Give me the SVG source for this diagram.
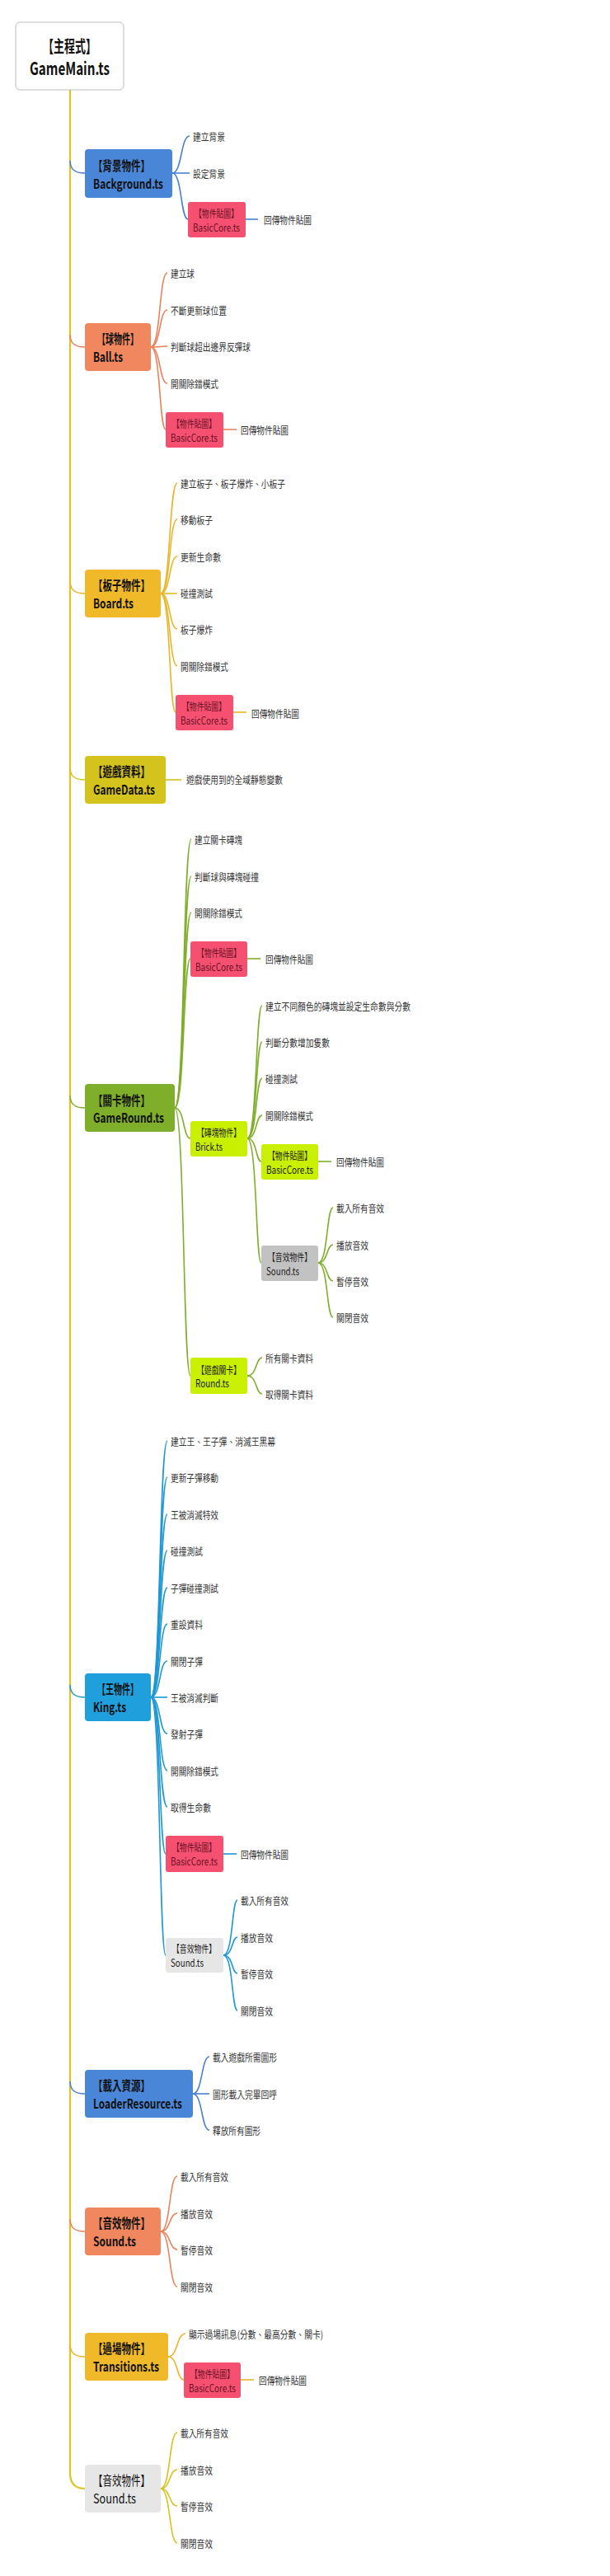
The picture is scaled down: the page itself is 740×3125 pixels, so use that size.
<svg xmlns="http://www.w3.org/2000/svg" width="740" height="3125" viewBox="0 0 740 3125">
<style>
text{font-family:"Noto Sans CJK TC","Noto Sans",sans-serif;dominant-baseline:central}
.c{font-size:12px;fill:#333}
.h{font-size:16px;font-weight:bold;fill:#111}
.s{font-size:12.5px;fill:#222}
.p{font-size:12.5px;fill:#6b1228}
.l{fill:none;stroke-width:1.6}
.box{stroke:none}
</style>
<rect width="740" height="3125" fill="#fff"/>
<g id="connectors">
<path d="M85 109 V3000 C85 3012 90 3019 103 3019" stroke="#dcc52a" stroke-width="2.2" fill="none"/>
<path class="l" stroke="#4a7fd0" d="M85 195 C85 205 90 210 103 210"/>
<path class="l" stroke="#e8825a" d="M85 406 C85 416 90 421 103 421"/>
<path class="l" stroke="#eab52a" d="M85 705 C85 715 90 720 103 720"/>
<path class="l" stroke="#d4c21d" d="M85 931 C85 941 90 946 103 946"/>
<path class="l" stroke="#7fae2a" d="M85 1329 C85 1339 90 1344 103 1344"/>
<path class="l" stroke="#1f97d3" d="M85 2044 C85 2054 90 2059 103 2059"/>
<path class="l" stroke="#4a7fd0" d="M85 2525 C85 2535 90 2540 103 2540"/>
<path class="l" stroke="#e8825a" d="M85 2692 C85 2702 90 2707 103 2707"/>
<path class="l" stroke="#eab52a" d="M85 2844 C85 2854 90 2859 103 2859"/>
<g stroke="#4a7fd0" class="l">
<path class="l" d="M209 210 C221 210 219 165 230 165"/><path class="l" d="M209 210 H230"/><path class="l" d="M209 210 C221 210 219 266 228 266"/><path class="l" d="M298 266 H313"/>
</g>
<g stroke="#e8825a">
<path class="l" d="M183 421 C195 421 193 331 203 331"/><path class="l" d="M183 421 C195 421 193 376 203 376"/><path class="l" d="M183 421 C195 421 193 420 203 420"/><path class="l" d="M183 421 C195 421 193 465 203 465"/><path class="l" d="M183 421 C195 421 193 521 201 521"/><path class="l" d="M271 521 H287"/>
</g>
<g stroke="#eab52a">
<path class="l" d="M195 720 C207 720 205 586 215 586"/><path class="l" d="M195 720 C207 720 205 630 215 630"/><path class="l" d="M195 720 C207 720 205 675 215 675"/><path class="l" d="M195 720 H215"/><path class="l" d="M195 720 C207 720 205 763 215 763"/><path class="l" d="M195 720 C207 720 205 808 215 808"/><path class="l" d="M195 720 C207 720 205 864 213 864"/><path class="l" d="M283 864 H299"/>
</g>
<path class="l" stroke="#d4c21d" d="M201 946 H220"/>
<g stroke="#7fae2a">
<path class="l" d="M212 1344 C224 1344 222 1018 232 1018"/><path class="l" d="M212 1344 C224 1344 222 1063 232 1063"/><path class="l" d="M212 1344 C224 1344 222 1107 232 1107"/><path class="l" d="M212 1344 C224 1344 222 1163 231 1163"/><path class="l" d="M300 1163 H316"/><path class="l" d="M212 1344 C224 1344 222 1381 231 1381"/><path class="l" d="M212 1344 C224 1344 222 1669 231 1669"/>
<path class="l" d="M300 1381 C312 1381 310 1220 318 1220"/><path class="l" d="M300 1381 C312 1381 310 1264 318 1264"/><path class="l" d="M300 1381 C312 1381 310 1308 318 1308"/><path class="l" d="M300 1381 C312 1381 310 1353 318 1353"/><path class="l" d="M300 1381 C312 1381 310 1409 317 1409"/><path class="l" d="M386 1409 H402"/><path class="l" d="M300 1381 C312 1381 310 1532 317 1532"/>
<path class="l" d="M386 1532 C398 1532 396 1465 404 1465"/><path class="l" d="M386 1532 C398 1532 396 1510 404 1510"/><path class="l" d="M386 1532 C398 1532 396 1554 404 1554"/><path class="l" d="M386 1532 C398 1532 396 1598 404 1598"/>
<path class="l" d="M300 1669 C312 1669 310 1647 318 1647"/><path class="l" d="M300 1669 C312 1669 310 1691 318 1691"/>
</g>
<g stroke="#1f97d3">
<path class="l" d="M183 2059 C195 2059 193 1748 203 1748"/><path class="l" d="M183 2059 C195 2059 193 1792 203 1792"/><path class="l" d="M183 2059 C195 2059 193 1837 203 1837"/><path class="l" d="M183 2059 C195 2059 193 1881 203 1881"/><path class="l" d="M183 2059 C195 2059 193 1926 203 1926"/><path class="l" d="M183 2059 C195 2059 193 1970 203 1970"/><path class="l" d="M183 2059 C195 2059 193 2015 203 2015"/><path class="l" d="M183 2059 H203"/><path class="l" d="M183 2059 C195 2059 193 2103 203 2103"/><path class="l" d="M183 2059 C195 2059 193 2148 203 2148"/><path class="l" d="M183 2059 C195 2059 193 2192 203 2192"/><path class="l" d="M183 2059 C195 2059 193 2249 201 2249"/><path class="l" d="M271 2249 H287"/><path class="l" d="M183 2059 C195 2059 193 2372 201 2372"/>
<path class="l" d="M271 2372 C283 2372 281 2305 288 2305"/><path class="l" d="M271 2372 C283 2372 281 2350 288 2350"/><path class="l" d="M271 2372 C283 2372 281 2394 288 2394"/><path class="l" d="M271 2372 C283 2372 281 2439 288 2439"/>
</g>
<g stroke="#4a7fd0">
<path class="l" d="M234 2540 C246 2540 244 2495 254 2495"/><path class="l" d="M234 2540 H254"/><path class="l" d="M234 2540 C246 2540 244 2584 254 2584"/>
</g>
<g stroke="#e8825a">
<path class="l" d="M195 2707 C207 2707 205 2640 215 2640"/><path class="l" d="M195 2707 C207 2707 205 2685 215 2685"/><path class="l" d="M195 2707 C207 2707 205 2729 215 2729"/><path class="l" d="M195 2707 C207 2707 205 2774 215 2774"/>
</g>
<g stroke="#eab52a">
<path class="l" d="M204 2859 C216 2859 214 2831 225 2831"/><path class="l" d="M204 2859 C216 2859 214 2887 223 2887"/><path class="l" d="M292 2887 H308"/>
</g>
<g stroke="#d4c21d">
<path class="l" d="M195 3019 C207 3019 205 2951 215 2951"/><path class="l" d="M195 3019 C207 3019 205 2996 215 2996"/><path class="l" d="M195 3019 C207 3019 205 3040 215 3040"/><path class="l" d="M195 3019 C207 3019 205 3085 215 3085"/>
</g>
</g>
<g id="root"><rect x="19" y="27" width="131" height="82" rx="5" fill="#fff" stroke="#bbb"/>
<text x="84.5" y="55" text-anchor="middle" font-size="20" font-weight="bold" fill="#111" textLength="65" lengthAdjust="spacingAndGlyphs">【主程式】</text>
<text x="84.5" y="82" text-anchor="middle" font-size="21" font-weight="bold" fill="#111" textLength="97" lengthAdjust="spacingAndGlyphs">GameMain.ts</text></g>

<g id="background"><rect x="103" y="181" width="106" height="59" rx="4" fill="#4a86d8"/>
<text class="h" x="113" y="200" textLength="69" lengthAdjust="spacingAndGlyphs">【背景物件】</text><text class="h" x="113" y="222" textLength="85" lengthAdjust="spacingAndGlyphs">Background.ts</text></g>
<g id="bg-items"><text class="c" x="234" y="165" textLength="39" lengthAdjust="spacingAndGlyphs">建立背景</text><text class="c" x="234" y="210" textLength="39" lengthAdjust="spacingAndGlyphs">設定背景</text>
<rect x="228" y="245" width="70" height="43" rx="3" fill="#f5506f"/><text class="p" x="236" y="258" textLength="53" lengthAdjust="spacingAndGlyphs">【物件貼圖】</text><text class="p" x="234" y="275" textLength="57" lengthAdjust="spacingAndGlyphs">BasicCore.ts</text>
<text class="c" x="320" y="266" textLength="58" lengthAdjust="spacingAndGlyphs">回傳物件貼圖</text></g>

<g id="ball"><rect x="103" y="392" width="80" height="58" rx="4" fill="#f0875e"/>
<text class="h" x="118" y="410" textLength="50" lengthAdjust="spacingAndGlyphs">【球物件】</text><text class="h" x="113" y="432" textLength="36" lengthAdjust="spacingAndGlyphs">Ball.ts</text></g>
<g id="ball-items"><text class="c" x="207" y="331" textLength="29" lengthAdjust="spacingAndGlyphs">建立球</text><text class="c" x="207" y="376" textLength="68" lengthAdjust="spacingAndGlyphs">不斷更新球位置</text><text class="c" x="207" y="420" textLength="97" lengthAdjust="spacingAndGlyphs">判斷球超出邊界反彈球</text><text class="c" x="207" y="465" textLength="58" lengthAdjust="spacingAndGlyphs">開關除錯模式</text>
<rect x="201" y="500" width="70" height="43" rx="3" fill="#f5506f"/><text class="p" x="209" y="513" textLength="53" lengthAdjust="spacingAndGlyphs">【物件貼圖】</text><text class="p" x="207" y="530" textLength="57" lengthAdjust="spacingAndGlyphs">BasicCore.ts</text>
<text class="c" x="292" y="521" textLength="58" lengthAdjust="spacingAndGlyphs">回傳物件貼圖</text></g>

<g id="board"><rect x="103" y="691" width="92" height="58" rx="4" fill="#f0b92a"/>
<text class="h" x="113" y="709" textLength="69" lengthAdjust="spacingAndGlyphs">【板子物件】</text><text class="h" x="113" y="731" textLength="49" lengthAdjust="spacingAndGlyphs">Board.ts</text></g>
<g id="board-items"><text class="c" x="219" y="586" textLength="127" lengthAdjust="spacingAndGlyphs">建立板子、板子爆炸、小板子</text><text class="c" x="219" y="630" textLength="39" lengthAdjust="spacingAndGlyphs">移動板子</text><text class="c" x="219" y="675" textLength="49" lengthAdjust="spacingAndGlyphs">更新生命數</text><text class="c" x="219" y="719" textLength="39" lengthAdjust="spacingAndGlyphs">碰撞測試</text><text class="c" x="219" y="763" textLength="39" lengthAdjust="spacingAndGlyphs">板子爆炸</text><text class="c" x="219" y="808" textLength="58" lengthAdjust="spacingAndGlyphs">開關除錯模式</text>
<rect x="213" y="843" width="70" height="43" rx="3" fill="#f5506f"/><text class="p" x="221" y="856" textLength="53" lengthAdjust="spacingAndGlyphs">【物件貼圖】</text><text class="p" x="219" y="873" textLength="57" lengthAdjust="spacingAndGlyphs">BasicCore.ts</text>
<text class="c" x="305" y="865" textLength="58" lengthAdjust="spacingAndGlyphs">回傳物件貼圖</text></g>

<g id="gamedata"><rect x="103" y="917" width="98" height="58" rx="4" fill="#d4c21d"/>
<text class="h" x="113" y="935" textLength="69" lengthAdjust="spacingAndGlyphs">【遊戲資料】</text><text class="h" x="113" y="957" textLength="75" lengthAdjust="spacingAndGlyphs">GameData.ts</text>
<text class="c" x="226" y="945" textLength="117" lengthAdjust="spacingAndGlyphs">遊戲使用到的全域靜態變數</text></g>

<g id="gameround"><rect x="103" y="1315" width="109" height="58" rx="4" fill="#7fae2a"/>
<text class="h" x="113" y="1334" textLength="69" lengthAdjust="spacingAndGlyphs">【關卡物件】</text><text class="h" x="113" y="1355" textLength="86" lengthAdjust="spacingAndGlyphs">GameRound.ts</text></g>
<g id="round-items"><text class="c" x="236" y="1018" textLength="58" lengthAdjust="spacingAndGlyphs">建立關卡磚塊</text><text class="c" x="236" y="1063" textLength="78" lengthAdjust="spacingAndGlyphs">判斷球與磚塊碰撞</text><text class="c" x="236" y="1107" textLength="58" lengthAdjust="spacingAndGlyphs">開關除錯模式</text>
<rect x="231" y="1142" width="69" height="43" rx="3" fill="#f5506f"/><text class="p" x="239" y="1155" textLength="53" lengthAdjust="spacingAndGlyphs">【物件貼圖】</text><text class="p" x="237" y="1172" textLength="57" lengthAdjust="spacingAndGlyphs">BasicCore.ts</text>
<text class="c" x="322" y="1163" textLength="58" lengthAdjust="spacingAndGlyphs">回傳物件貼圖</text></g>

<g id="brick"><rect x="231" y="1360" width="69" height="43" rx="3" fill="#c8f000"/>
<text class="s" x="239" y="1373" textLength="53" lengthAdjust="spacingAndGlyphs">【磚塊物件】</text><text class="s" x="237" y="1390" textLength="33" lengthAdjust="spacingAndGlyphs">Brick.ts</text></g>
<g id="brick-items"><text class="c" x="322" y="1220" textLength="176" lengthAdjust="spacingAndGlyphs">建立不同顏色的磚塊並設定生命數與分數</text><text class="c" x="322" y="1264" textLength="78" lengthAdjust="spacingAndGlyphs">判斷分數增加隻數</text><text class="c" x="322" y="1308" textLength="39" lengthAdjust="spacingAndGlyphs">碰撞測試</text><text class="c" x="322" y="1353" textLength="58" lengthAdjust="spacingAndGlyphs">開關除錯模式</text>
<rect x="317" y="1388" width="69" height="43" rx="3" fill="#c8f000"/><text class="s" x="325" y="1401" textLength="53" lengthAdjust="spacingAndGlyphs">【物件貼圖】</text><text class="s" x="323" y="1418" textLength="57" lengthAdjust="spacingAndGlyphs">BasicCore.ts</text>
<text class="c" x="408" y="1409" textLength="58" lengthAdjust="spacingAndGlyphs">回傳物件貼圖</text></g>
<g id="brick-sound"><rect x="317" y="1511" width="69" height="43" rx="3" fill="#c2c2c2"/>
<text class="s" x="325" y="1524" textLength="53" lengthAdjust="spacingAndGlyphs">【音效物件】</text><text class="s" x="323" y="1541" textLength="40" lengthAdjust="spacingAndGlyphs">Sound.ts</text>
<text class="c" x="408" y="1465" textLength="58" lengthAdjust="spacingAndGlyphs">載入所有音效</text><text class="c" x="408" y="1510" textLength="39" lengthAdjust="spacingAndGlyphs">播放音效</text><text class="c" x="408" y="1554" textLength="39" lengthAdjust="spacingAndGlyphs">暫停音效</text><text class="c" x="408" y="1598" textLength="39" lengthAdjust="spacingAndGlyphs">關閉音效</text></g>
<g id="round"><rect x="231" y="1647" width="69" height="44" rx="3" fill="#c8f000"/>
<text class="s" x="239" y="1661" textLength="53" lengthAdjust="spacingAndGlyphs">【遊戲關卡】</text><text class="s" x="237" y="1677" textLength="41" lengthAdjust="spacingAndGlyphs">Round.ts</text>
<text class="c" x="322" y="1647" textLength="58" lengthAdjust="spacingAndGlyphs">所有關卡資料</text><text class="c" x="322" y="1691" textLength="58" lengthAdjust="spacingAndGlyphs">取得關卡資料</text></g>

<g id="king"><rect x="103" y="2030" width="80" height="58" rx="4" fill="#1fa0dd"/>
<text class="h" x="118" y="2048" textLength="50" lengthAdjust="spacingAndGlyphs">【王物件】</text><text class="h" x="113" y="2070" textLength="40" lengthAdjust="spacingAndGlyphs">King.ts</text></g>
<g id="king-items"><text class="c" x="207" y="1748" textLength="127" lengthAdjust="spacingAndGlyphs">建立王、王子彈、消滅王黑幕</text><text class="c" x="207" y="1792" textLength="58" lengthAdjust="spacingAndGlyphs">更新子彈移動</text><text class="c" x="207" y="1837" textLength="58" lengthAdjust="spacingAndGlyphs">王被消滅特效</text><text class="c" x="207" y="1881" textLength="39" lengthAdjust="spacingAndGlyphs">碰撞測試</text><text class="c" x="207" y="1926" textLength="58" lengthAdjust="spacingAndGlyphs">子彈碰撞測試</text><text class="c" x="207" y="1970" textLength="39" lengthAdjust="spacingAndGlyphs">重設資料</text><text class="c" x="207" y="2015" textLength="39" lengthAdjust="spacingAndGlyphs">關閉子彈</text><text class="c" x="207" y="2059" textLength="58" lengthAdjust="spacingAndGlyphs">王被消滅判斷</text><text class="c" x="207" y="2103" textLength="39" lengthAdjust="spacingAndGlyphs">發射子彈</text><text class="c" x="207" y="2148" textLength="58" lengthAdjust="spacingAndGlyphs">開關除錯模式</text><text class="c" x="207" y="2192" textLength="49" lengthAdjust="spacingAndGlyphs">取得生命數</text>
<rect x="201" y="2227" width="70" height="44" rx="3" fill="#f5506f"/><text class="p" x="209" y="2240" textLength="53" lengthAdjust="spacingAndGlyphs">【物件貼圖】</text><text class="p" x="207" y="2257" textLength="57" lengthAdjust="spacingAndGlyphs">BasicCore.ts</text>
<text class="c" x="292" y="2249" textLength="58" lengthAdjust="spacingAndGlyphs">回傳物件貼圖</text></g>
<g id="king-sound"><rect x="201" y="2351" width="70" height="42" rx="3" fill="#e6e6e6"/>
<text class="s" x="209" y="2363" textLength="53" lengthAdjust="spacingAndGlyphs">【音效物件】</text><text class="s" x="207" y="2380" textLength="40" lengthAdjust="spacingAndGlyphs">Sound.ts</text>
<text class="c" x="292" y="2305" textLength="58" lengthAdjust="spacingAndGlyphs">載入所有音效</text><text class="c" x="292" y="2350" textLength="39" lengthAdjust="spacingAndGlyphs">播放音效</text><text class="c" x="292" y="2394" textLength="39" lengthAdjust="spacingAndGlyphs">暫停音效</text><text class="c" x="292" y="2439" textLength="39" lengthAdjust="spacingAndGlyphs">關閉音效</text></g>

<g id="loader"><rect x="103" y="2511" width="131" height="58" rx="4" fill="#4a86d8"/>
<text class="h" x="113" y="2529" textLength="69" lengthAdjust="spacingAndGlyphs">【載入資源】</text><text class="h" x="113" y="2551" textLength="108" lengthAdjust="spacingAndGlyphs">LoaderResource.ts</text>
<text class="c" x="258" y="2495" textLength="78" lengthAdjust="spacingAndGlyphs">載入遊戲所需圖形</text><text class="c" x="258" y="2540" textLength="78" lengthAdjust="spacingAndGlyphs">圖形載入完畢回呼</text><text class="c" x="258" y="2584" textLength="58" lengthAdjust="spacingAndGlyphs">釋放所有圖形</text></g>

<g id="sound1"><rect x="103" y="2678" width="92" height="58" rx="4" fill="#f0875e"/>
<text class="h" x="113" y="2696" textLength="69" lengthAdjust="spacingAndGlyphs">【音效物件】</text><text class="h" x="113" y="2718" textLength="52" lengthAdjust="spacingAndGlyphs">Sound.ts</text>
<text class="c" x="219" y="2640" textLength="58" lengthAdjust="spacingAndGlyphs">載入所有音效</text><text class="c" x="219" y="2685" textLength="39" lengthAdjust="spacingAndGlyphs">播放音效</text><text class="c" x="219" y="2729" textLength="39" lengthAdjust="spacingAndGlyphs">暫停音效</text><text class="c" x="219" y="2774" textLength="39" lengthAdjust="spacingAndGlyphs">關閉音效</text></g>

<g id="transitions"><rect x="103" y="2830" width="101" height="58" rx="4" fill="#f0b92a"/>
<text class="h" x="113" y="2848" textLength="69" lengthAdjust="spacingAndGlyphs">【過場物件】</text><text class="h" x="113" y="2870" textLength="80" lengthAdjust="spacingAndGlyphs">Transitions.ts</text>
<text class="c" x="229" y="2831" textLength="163" lengthAdjust="spacingAndGlyphs">顯示過場訊息(分數、最高分數、關卡)</text>
<rect x="223" y="2866" width="69" height="43" rx="3" fill="#f5506f"/><text class="p" x="231" y="2879" textLength="53" lengthAdjust="spacingAndGlyphs">【物件貼圖】</text><text class="p" x="229" y="2896" textLength="57" lengthAdjust="spacingAndGlyphs">BasicCore.ts</text>
<text class="c" x="314" y="2887" textLength="58" lengthAdjust="spacingAndGlyphs">回傳物件貼圖</text></g>

<g id="sound2"><rect x="103" y="2990" width="92" height="58" rx="4" fill="#e6e6e6"/>
<text x="113" y="3008" font-size="16" fill="#111" textLength="69" lengthAdjust="spacingAndGlyphs">【音效物件】</text><text x="113" y="3030" font-size="16" fill="#111" textLength="52" lengthAdjust="spacingAndGlyphs">Sound.ts</text>
<text class="c" x="219" y="2951" textLength="58" lengthAdjust="spacingAndGlyphs">載入所有音效</text><text class="c" x="219" y="2996" textLength="39" lengthAdjust="spacingAndGlyphs">播放音效</text><text class="c" x="219" y="3040" textLength="39" lengthAdjust="spacingAndGlyphs">暫停音效</text><text class="c" x="219" y="3085" textLength="39" lengthAdjust="spacingAndGlyphs">關閉音效</text></g>
</svg>
